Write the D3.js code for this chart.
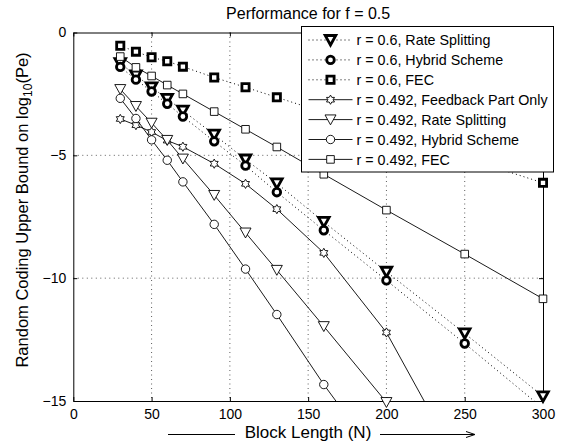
<!DOCTYPE html>
<html>
<head>
<meta charset="utf-8">
<script src="https://cdn.jsdelivr.net/npm/d3@7"></script>
<style>
  body { margin: 0; background: #fff; }
  text { font-family: "Liberation Sans", Arial, sans-serif; }
</style>
</head>
<body>
<div id="chart"></div>
<script>
// block lengths N (x values)
const blockLengths = [30, 40, 50, 60, 70, 90, 110, 130, 160, 200, 250, 300];

// log10(Pe) bounds
const rateSplit06 = [-1.25, -1.75, -2.23, -2.70, -3.18, -4.16, -5.17, -6.14, -7.71, -9.74, -12.25, -14.81];
const hybrid06 = [-1.40, -1.92, -2.40, -2.90, -3.42, -4.43, -5.42, -6.50, -8.05, -10.09, -12.66, -15.30];
const fec06 = [-0.54, -0.78, -1.01, -1.17, -1.39, -1.83, -2.23, -2.64, -3.25, -4.07, -5.10, -6.12];
const feedback0492 = [-3.52, -3.77, -4.05, -4.40, -4.65, -5.34, -6.16, -7.19, -8.97, -12.21, -18.0];
const rateSplit0492 = [-2.31, -3.00, -3.68, -4.38, -5.14, -6.62, -8.15, -9.67, -11.96, -15.05];
const hybrid0492 = [-2.68, -3.50, -4.37, -5.20, -6.08, -7.81, -9.63, -11.48, -14.33, -17.8];
const fec0492 = [-0.98, -1.42, -1.77, -2.14, -2.50, -3.22, -3.94, -4.66, -5.77, -7.23, -9.02, -10.84];

const xTicks = [0, 50, 100, 150, 200, 250, 300];
const yTicks = [0, -5, -10, -15];

const seriesList = [
    { name: "r = 0.6, Rate Splitting", values: rateSplit06, marker: "tri", bold: true },
    { name: "r = 0.6, Hybrid Scheme", values: hybrid06, marker: "circle", bold: true },
    { name: "r = 0.6, FEC", values: fec06, marker: "square", bold: true },
    { name: "r = 0.492, Feedback Part Only", values: feedback0492, marker: "hex", bold: false },
    { name: "r = 0.492, Rate Splitting", values: rateSplit0492, marker: "tri", bold: false },
    { name: "r = 0.492, Hybrid Scheme", values: hybrid0492, marker: "circle", bold: false },
    { name: "r = 0.492, FEC", values: fec0492, marker: "square", bold: false }
];

const width = 564, height = 441;
const plot = { left: 73.3, right: 543, top: 32.5, bottom: 401 };

const svg = d3.select("#chart").append("svg")
    .attr("width", width)
    .attr("height", height);

const x = d3.scaleLinear().domain([0, 300]).range([plot.left, plot.right]);
const y = d3.scaleLinear().domain([-15, 0]).range([plot.bottom, plot.top]);

svg.append("defs").append("clipPath").attr("id", "plot-clip")
    .append("rect")
    .attr("x", plot.left).attr("y", plot.top)
    .attr("width", plot.right - plot.left).attr("height", plot.bottom - plot.top);

// grid lines (dotted)
const grid = svg.append("g").attr("class", "grid");
xTicks.slice(1, -1).forEach(t => {
    grid.append("line")
        .attr("x1", x(t)).attr("x2", x(t))
        .attr("y1", plot.top).attr("y2", plot.bottom)
        .attr("stroke", "#333").attr("stroke-width", 0.8)
        .attr("stroke-dasharray", "1,3.5");
});
yTicks.slice(1, -1).forEach(t => {
    grid.append("line")
        .attr("x1", plot.left).attr("x2", plot.right)
        .attr("y1", y(t)).attr("y2", y(t))
        .attr("stroke", "#333").attr("stroke-width", 0.8)
        .attr("stroke-dasharray", "1,3.5");
});

// axes (MATLAB style: ticks inward on every side)
const xAxisBottom = d3.axisBottom(x).tickValues(xTicks).tickSizeInner(-4).tickSizeOuter(0).tickPadding(8);
const xAxisTop = d3.axisTop(x).tickValues(xTicks).tickSizeInner(-4).tickSizeOuter(0).tickFormat("");
const yAxisLeft = d3.axisLeft(y).tickValues(yTicks).tickSizeInner(-4).tickSizeOuter(0).tickPadding(7)
    .tickFormat(d => d3.format("d")(d).replace("-", "\u2212"));
const yAxisRight = d3.axisRight(y).tickValues(yTicks).tickSizeInner(-4).tickSizeOuter(0).tickFormat("");

function styleAxis(g) {
    g.select(".domain").attr("stroke", "#000").attr("stroke-width", 1);
    g.selectAll(".tick line").attr("stroke", "#000");
    g.selectAll(".tick text").attr("fill", "#000").attr("font-size", 14)
        .attr("font-family", "Liberation Sans, Arial, sans-serif");
}

svg.append("g").attr("transform", `translate(0,${plot.bottom})`).call(xAxisBottom).call(styleAxis);
svg.append("g").attr("transform", `translate(0,${plot.top})`).call(xAxisTop).call(styleAxis);
svg.append("g").attr("transform", `translate(${plot.left},0)`).call(yAxisLeft).call(styleAxis);
svg.append("g").attr("transform", `translate(${plot.right},0)`).call(yAxisRight).call(styleAxis);

// marker shapes
function markerPath(type, bold) {
    if (type === "tri") {
        const s = bold ? 5.3 : 5.5;
        return `M${-s},${-s * 0.85} L${s},${-s * 0.85} L0,${s * 0.95} Z`;
    }
    if (type === "square") {
        const s = bold ? 3.6 : 3.8;
        return `M${-s},${-s} L${s},${-s} L${s},${s} L${-s},${s} Z`;
    }
    if (type === "circle") {
        const r = bold ? 3.8 : 4.2;
        return `M${r},0 A${r},${r} 0 1,1 ${-r},0 A${r},${r} 0 1,1 ${r},0 Z`;
    }
    // hexagram
    const R = 4.6, r = R / Math.sqrt(3);
    const pts = d3.range(12).map(i => {
        const a = -Math.PI / 2 + i * Math.PI / 6;
        const rad = i % 2 === 0 ? R : r;
        return [Math.cos(a) * rad, Math.sin(a) * rad];
    });
    return "M" + pts.map(p => p.join(",")).join("L") + "Z";
}

const line = d3.line()
    .x((d, i) => x(blockLengths[i]))
    .y(d => y(d));

const lineGroup = svg.append("g").attr("clip-path", "url(#plot-clip)");
const markerGroup = svg.append("g");

seriesList.forEach(s => {
    lineGroup.append("path")
        .datum(s.values)
        .attr("d", line)
        .attr("fill", "none")
        .attr("stroke", "#000")
        .attr("stroke-width", s.bold ? 1 : 0.9)
        .attr("stroke-dasharray", s.bold ? "1,3" : null);

    s.values.forEach((v, i) => {
        if (v < -15.2 || v > 0) return;
        markerGroup.append("path")
            .attr("d", markerPath(s.marker, s.bold))
            .attr("transform", `translate(${x(blockLengths[i])},${y(v)})`)
            .attr("fill", "#fff")
            .attr("stroke", "#000")
            .attr("stroke-width", s.bold ? 2.8 : 0.9);
    });
});

// legend
const legend = svg.append("g").attr("transform", "translate(301.5,26.5)");
legend.append("rect")
    .attr("width", 252).attr("height", 145.5)
    .attr("fill", "#fff").attr("stroke", "#000").attr("stroke-width", 1);

seriesList.forEach((s, i) => {
    const ly = 13.5 + i * 19.9;
    legend.append("line")
        .attr("x1", 7).attr("x2", 51).attr("y1", ly).attr("y2", ly)
        .attr("stroke", "#000").attr("stroke-width", s.bold ? 1 : 0.9)
        .attr("stroke-dasharray", s.bold ? "1,3" : null);
    legend.append("path")
        .attr("d", markerPath(s.marker, s.bold))
        .attr("transform", `translate(29,${ly})`)
        .attr("fill", "#fff").attr("stroke", "#000")
        .attr("stroke-width", s.bold ? 2.8 : 0.9);
    legend.append("text")
        .attr("x", 55).attr("y", ly)
        .attr("dy", "0.36em")
        .attr("font-size", 14.3)
        .text(s.name);
});

// title
svg.append("text")
    .attr("x", (plot.left + plot.right) / 2).attr("y", 19)
    .attr("text-anchor", "middle")
    .attr("font-size", 16)
    .text("Performance for f = 0.5");

// y label with subscript
const yLabel = svg.append("text")
    .attr("transform", `translate(28,210) rotate(-90)`)
    .attr("text-anchor", "middle")
    .attr("font-size", 16.5);
yLabel.append("tspan").text("Random Coding Upper Bound on log");
yLabel.append("tspan").attr("font-size", 12).attr("dy", 4).text("10");
yLabel.append("tspan").attr("dy", -4).text("(Pe)");

// x label with arrow lines
svg.append("text")
    .attr("x", 308).attr("y", 438)
    .attr("text-anchor", "middle")
    .attr("font-size", 17)
    .text("Block Length (N)");
svg.append("line")
    .attr("x1", 168).attr("x2", 235).attr("y1", 434.5).attr("y2", 434.5)
    .attr("stroke", "#000").attr("stroke-width", 1);
svg.append("line")
    .attr("x1", 380).attr("x2", 474).attr("y1", 434.5).attr("y2", 434.5)
    .attr("stroke", "#000").attr("stroke-width", 1);
svg.append("path")
    .attr("d", "M466,431.5 L475,434.5 L466,437.5")
    .attr("fill", "none").attr("stroke", "#000").attr("stroke-width", 1);
</script>
</body>
</html>
